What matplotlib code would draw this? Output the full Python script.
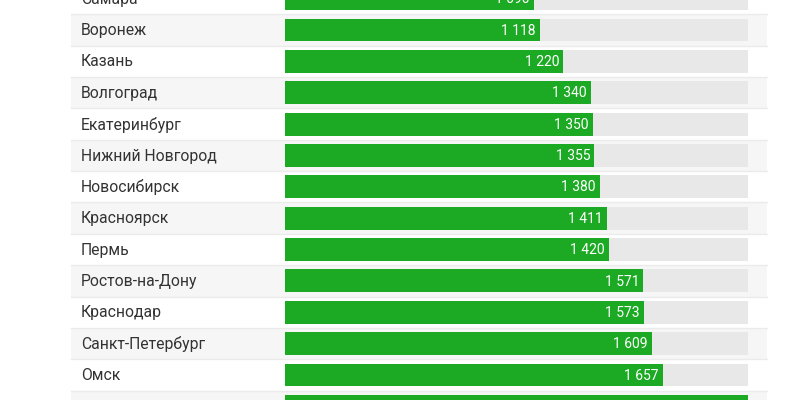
import matplotlib
matplotlib.use("Agg")
import matplotlib.pyplot as plt

plt.rcParams["font.family"] = ["Roboto", "DejaVu Sans"]

# данные
cities = ["Самара", "Воронеж", "Казань", "Волгоград", "Екатеринбург",
          "Нижний Новгород", "Новосибирск", "Красноярск", "Пермь",
          "Ростов-на-Дону", "Краснодар", "Санкт-Петербург", "Омск", "Москва"]
values = [1090, 1118, 1220, 1340, 1350, 1355, 1380, 1411, 1420,
          1571, 1573, 1609, 1657, 2030]
vmax = 2030

GREEN = "#1caa24"
TRACK = "#e8e8e8"
BAND = "#f6f6f6"

W, H = 800, 400
fig = plt.figure(figsize=(8, 4), dpi=100)

# ряды: центр ряда 1 на 30 px, шаг 31.36 px
pitch = 31.36
y_top = 1 - 30 / pitch
y_bot = 1 + (H - 30) / pitch
rows = list(range(len(cities)))

# фон и подписи городов
bg = fig.add_axes([0, 0, 1, 1])
bg.set_xlim(0, W)
bg.set_ylim(y_bot, y_top)
bg.axis("off")
for i, name in zip(rows, cities):
    if i % 2 == 1:
        bg.axhspan(i - 0.5, i + 0.5, xmin=71 / W, xmax=767 / W,
                   color=BAND, lw=0, zorder=0)
    bg.plot([71, 767], [i + 0.5, i + 0.5], color="#ebebeb", lw=1, zorder=1)
    # последний ряд уходит за нижний край, его подпись не видна
    if i < y_bot:
        bg.text(81, i + 0.02, name, ha="left", va="center", fontsize=11.3,
                color="#333333", zorder=2)

# бары
ax = fig.add_axes([285 / W, 0, (748 - 285) / W, 1])
ax.set_xlim(0, vmax)
ax.set_ylim(y_bot, y_top)
ax.axis("off")
ax.patch.set_alpha(0)
ax.barh(rows, [vmax] * len(rows), height=0.73, color=TRACK, lw=0)
ax.barh(rows, values, height=0.73, color=GREEN, lw=0)

px = vmax / (748 - 285)
for i, v in zip(rows, values):
    if i >= y_bot:
        continue
    label = f"{v:,}".replace(",", " ")
    ax.text(v - 4 * px, i + 0.02, label, ha="right", va="center",
            fontsize=10, color="white")

fig.savefig("out.png", dpi=100)
